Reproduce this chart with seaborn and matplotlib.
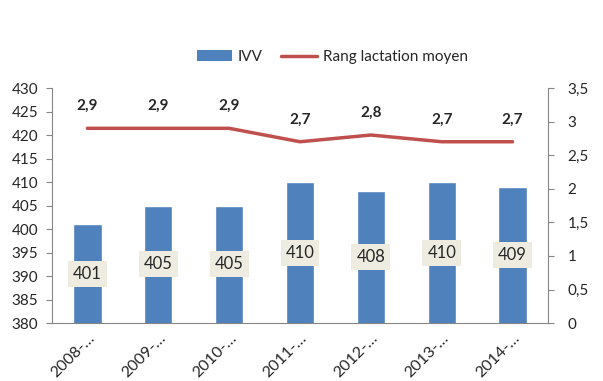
import matplotlib
matplotlib.use("Agg")
import matplotlib.pyplot as plt
from matplotlib.patches import Patch
from matplotlib.lines import Line2D
import numpy as np
import pandas as pd
import seaborn as sns

annees = ['2008-…', '2009-…', '2010-…', '2011-…', '2012-…', '2013-…', '2014-…']
ivv = [401, 405, 405, 410, 408, 410, 409]
rang = [2.9, 2.9, 2.9, 2.7, 2.8, 2.7, 2.7]

sns.set_style('white')
plt.rcParams['font.family'] = ['Lato', 'DejaVu Sans']

bleu = '#4F81BD'
rouge = '#C0504D'
gris = '#868686'

df = pd.DataFrame({'annee': annees, 'ivv': ivv, 'rang': rang, 'pos': np.arange(len(annees))})

fig = plt.figure(figsize=(6.03, 3.81), dpi=100)
ax = fig.add_axes([0.0862, 0.152, 0.8226, 0.617])

sns.barplot(data=df, x='pos', y='ivv', color=bleu, saturation=1, width=0.4, ax=ax)
ax.set_ylim(380, 430)
ax.set_yticks(range(380, 431, 5))
ax.set_xlim(-0.5, len(annees) - 0.5)
ax.set_xlabel('')
ax.set_ylabel('')

for i, v in enumerate(ivv):
    ax.text(i, (380 + v) / 2, str(v), ha='center', va='center', fontsize=12,
            bbox=dict(boxstyle='square,pad=0.3', fc='#EEECE1', ec='none'))

ax2 = ax.twinx()
sns.lineplot(data=df, x='pos', y='rang', color=rouge, linewidth=2.5, sort=False, ax=ax2)
ax2.set_ylim(0, 3.5)
ax2.set_yticks(np.arange(0, 3.51, 0.5))
ax2.set_yticklabels(['0', '0,5', '1', '1,5', '2', '2,5', '3', '3,5'])
ax2.set_ylabel('')
ax2.set_xlabel('')
ax2.set_xlim(-0.5, len(annees) - 0.5)

for i, v in enumerate(rang):
    ax2.text(i, v + 0.33, f'{v:.1f}'.replace('.', ','), ha='center', va='center',
             fontsize=11, fontweight='bold')

# axes style
for a in (ax, ax2):
    for s in a.spines.values():
        s.set_visible(False)
ax.spines['left'].set_visible(True)
ax.spines['left'].set_color(gris)
ax.spines['bottom'].set_visible(True)
ax.spines['bottom'].set_color(gris)
ax2.spines['right'].set_visible(True)
ax2.spines['right'].set_color(gris)

ax.set_xticks(np.arange(len(annees)))
ax.set_xticklabels(annees, rotation=45, ha='right', rotation_mode='anchor', fontsize=11.5)
ax.set_xticks(np.arange(-0.5, len(annees)), minor=True)
ax.tick_params(axis='x', which='major', length=0, pad=6)
ax.tick_params(axis='x', which='minor', length=5, color=gris, direction='out')
ax.tick_params(axis='y', length=4, color=gris, direction='out', left=True, labelsize=11, pad=6)
ax2.tick_params(axis='y', length=4, color=gris, direction='out', right=True, labelsize=11, pad=10)
ax.grid(False)
ax2.grid(False)

handles = [Patch(facecolor=bleu, edgecolor='none'),
           Line2D([0], [0], color=rouge, linewidth=2.5)]
fig.legend(handles, ['IVV', 'Rang lactation moyen'], loc='center', bbox_to_anchor=(0.551, 0.85),
           ncol=2, frameon=False, fontsize=11, handlelength=2.3, columnspacing=1.2, handletextpad=0.4)

fig.savefig('out.png', dpi=100)
